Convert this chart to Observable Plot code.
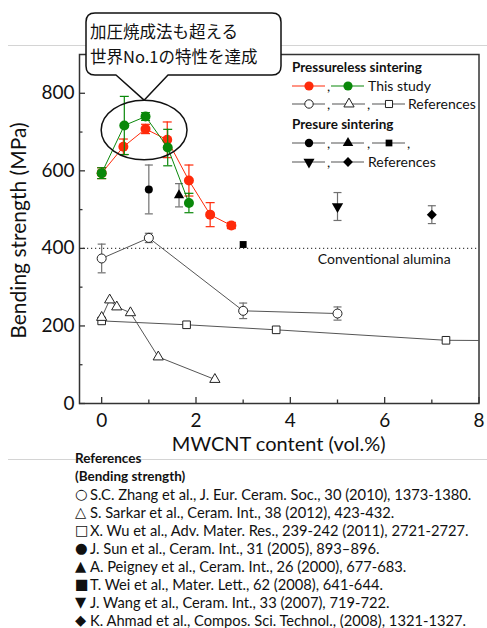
<!DOCTYPE html>
<html><head><meta charset="utf-8">
<script src="https://cdn.jsdelivr.net/npm/d3@7"></script>
<script src="https://cdn.jsdelivr.net/npm/@observablehq/plot@0.6"></script>
<style>
body{margin:0;background:#fff;}
#wrap{position:relative;width:487px;height:628px;overflow:hidden;font-family:Lato,sans-serif;}
#refs{position:absolute;left:75px;top:449px;font-size:14.7px;color:#111;white-space:nowrap;}
#refs div{height:18px;line-height:18px;}
#refs .h{font-weight:bold;font-size:13.5px;}
#refs .m{display:inline-block;width:15px;font-family:"DejaVu Sans",sans-serif;font-size:14.5px;line-height:18px;vertical-align:top;}
</style></head><body><div id="wrap"><div id="chart"></div><div id="refs"></div></div>
<script>
// ---- data ----
const studyX   = [0, 0.46, 0.93, 1.39, 1.85, 2.30, 2.75];
const redY     = [594, 662, 708, 680, 575, 487, 459];
const redErr   = [14, 20, 12, 46, 40, 31, 8];
const greenX   = [0, 0.48, 0.93, 1.40, 1.85];
const greenY   = [594, 717, 740, 660, 517];
const greenErr = [14, 75, 10, 47, 25];
const zhangX = [0, 1, 3, 5];
const zhangY = [374, 427, 239, 232];
const zhangErr = [37, 12, 20, 17];
const sarkarX = [0, 0.17, 0.32, 0.61, 1.2, 2.4];
const sarkarY = [222, 267, 249, 234, 120, 62];
const wuX = [0, 1.8, 3.7, 7.3, 10];
const wuY = [213, 203, 190, 163, 161];
const sunX = [1],     sunY = [552],     sunErr = [63];
const peigneyX = [1.64], peigneyY = [537], peigneyErr = [30];
const weiX = [3],     weiY = [410];
const wangX = [5],    wangY = [508],    wangErr = [36];
const ahmadX = [7],   ahmadY = [487],   ahmadErr = [23];
const alumina = [400];
const xMajor = [0, 2, 4, 6, 8], xMinor = [1, 3, 5, 7];
const yMajor = [0, 200, 400, 600, 800], yMinor = [100, 300, 500, 700];
const calloutLines = ["加圧焼成法も超える", "世界No.1の特性を達成"];
const references = [
  ["○", "S.C. Zhang et al., J. Eur. Ceram. Soc., 30 (2010), 1373-1380."],
  ["△", "S. Sarkar et al., Ceram. Int., 38 (2012), 423-432."],
  ["□", "X. Wu et al., Adv. Mater. Res., 239-242 (2011), 2721-2727."],
  ["●", "J. Sun et al., Ceram. Int., 31 (2005), 893–896."],
  ["▲", "A. Peigney et al.,  Ceram. Int., 26 (2000), 677-683."],
  ["■", "T. Wei et al., Mater. Lett., 62 (2008), 641-644."],
  ["▼", "J. Wang et al., Ceram. Int., 33 (2007), 719-722."],
  ["◆", "K. Ahmad et al., Compos. Sci. Technol., (2008), 1321-1327."]
];
// highlight ellipse (data units)
const hiX = 0.91, hiY = 704, hiRx = 0.91, hiRy = 77;

// ---- build tables ----
const zip = (xs, ys, es) => xs.map((x, i) => ({x, y: ys[i], e: es ? es[i] : 0}));
const red = zip(studyX, redY, redErr), green = zip(greenX, greenY, greenErr);
const zhang = zip(zhangX, zhangY, zhangErr), sarkar = zip(sarkarX, sarkarY), wu = zip(wuX, wuY);
const sun = zip(sunX, sunY, sunErr), peigney = zip(peigneyX, peigneyY, peigneyErr);
const wei = zip(weiX, weiY), wang = zip(wangX, wangY, wangErr), ahmad = zip(ahmadX, ahmadY, ahmadErr);

const cap = {draw(ctx, size) { const r = Math.sqrt(size / Math.PI); ctx.moveTo(-r, 0); ctx.lineTo(r, 0); }};
const RED = "#ff2a0a", GREEN = "#0a880a", GRAY = "#555", EGRAY = "#707070";

function errBars(data, color, w) {
  return [
    Plot.ruleX(data, {x: "x", y1: d => d.y - d.e, y2: d => d.y + d.e, stroke: color, strokeWidth: 1.2}),
    Plot.dot(data, {x: "x", y: d => d.y - d.e, symbol: cap, r: w, stroke: color, strokeWidth: 1.2}),
    Plot.dot(data, {x: "x", y: d => d.y + d.e, symbol: cap, r: w, stroke: color, strokeWidth: 1.2})
  ];
}

const W = 487, H = 470, mL = 79, mR = 8.5, mT = 54, mB = 67;
const plotH = H - mT - mB, plotW = W - mL - mR;

const plot = Plot.plot({
  width: W, height: H,
  marginLeft: mL, marginRight: mR, marginTop: mT, marginBottom: mB,
  style: {fontFamily: "Lato, sans-serif", color: "#111", background: "transparent", overflow: "visible"},
  x: {domain: [-0.47, 8]},
  y: {domain: [0, 900]},
  marks: [
    Plot.ruleY(alumina, {stroke: "#444", strokeWidth: 1.2, strokeDasharray: "1.2,2.8"}),
    Plot.text(["Conventional alumina"], {x: 5.99, y: alumina[0], dy: 11, fontSize: 14, fill: "#111"}),
    // reference lines
    Plot.line(wu, {x: "x", y: "y", stroke: GRAY, strokeWidth: 1, clip: true}),
    Plot.line(sarkar, {x: "x", y: "y", stroke: GRAY, strokeWidth: 1}),
    Plot.line(zhang, {x: "x", y: "y", stroke: GRAY, strokeWidth: 1}),
    ...errBars(zhang, EGRAY, 4),
    Plot.dot(wu.filter(d => d.x <= 8), {x: "x", y: "y", symbol: "square", r: 4.3, fill: "white", stroke: "#222", strokeWidth: 1}),
    Plot.dot(sarkar, {x: "x", y: "y", symbol: "triangle", r: 3.8, fill: "white", stroke: "#222", strokeWidth: 1}),
    Plot.dot(zhang, {x: "x", y: "y", symbol: "circle", r: 4.5, fill: "white", stroke: "#222", strokeWidth: 1}),
    // pressure sintering references
    ...errBars(sun, EGRAY, 4), ...errBars(peigney, EGRAY, 4), ...errBars(wang, EGRAY, 4), ...errBars(ahmad, EGRAY, 4),
    Plot.dot(sun, {x: "x", y: "y", symbol: "circle", r: 4, fill: "black"}),
    Plot.dot(peigney, {x: "x", y: "y", symbol: "triangle", r: 3.8, fill: "black"}),
    Plot.dot(wei, {x: "x", y: "y", symbol: "square", r: 3.9, fill: "black"}),
    Plot.dot(wang, {x: "x", y: "y", symbol: "triangle", r: 4.2, rotate: 180, fill: "black"}),
    Plot.dot(ahmad, {x: "x", y: "y", symbol: "square", r: 4, rotate: 45, fill: "black"}),
    // this study
    Plot.line(red, {x: "x", y: "y", stroke: RED, strokeWidth: 1}),
    ...errBars(red, RED, 4.5),
    Plot.dot(red, {x: "x", y: "y", r: 5, fill: RED}),
    Plot.line(green, {x: "x", y: "y", stroke: GREEN, strokeWidth: 1}),
    ...errBars(green, GREEN, 4.5),
    Plot.dot(green, {x: "x", y: "y", r: 5, fill: GREEN}),
    // frame, ticks (inward), axes
    Plot.frame({stroke: "#333", strokeWidth: 1.5}),
    Plot.tickX(xMajor, {x: d => d, insetTop: plotH - 6, stroke: "#333", strokeWidth: 1.3}),
    Plot.tickX(xMinor, {x: d => d, insetTop: plotH - 3.5, stroke: "#333", strokeWidth: 1.3}),
    Plot.tickY(yMajor, {y: d => d, insetRight: plotW - 6, stroke: "#333", strokeWidth: 1.3}),
    Plot.tickY(yMinor, {y: d => d, insetRight: plotW - 3.5, stroke: "#333", strokeWidth: 1.3}),
    Plot.axisX(xMajor, {tickSize: 0, tickPadding: 10, fontSize: 19, label: null}),
    Plot.axisY(yMajor, {tickSize: 0, tickPadding: 5, fontSize: 19, label: null})
  ]
});
document.getElementById("chart").appendChild(plot);

// ---- annotations ----
const sx = plot.scale("x"), sy = plot.scale("y");
const svg = d3.select(plot);
// slide separators
svg.insert("line", ":first-child").attr("x1", 8).attr("x2", W).attr("y1", 45.5).attr("y2", 45.5).attr("stroke", "#d4d4d4").attr("stroke-width", 1);
svg.insert("line", ":first-child").attr("x1", 8).attr("x2", W).attr("y1", 459.5).attr("y2", 459.5).attr("stroke", "#d4d4d4").attr("stroke-width", 1);

// axis titles
svg.append("text").attr("x", (mL + W - mR) / 2).attr("y", 451).attr("text-anchor", "middle")
  .attr("font-size", 20).attr("fill", "#111").text("MWCNT content (vol.%)");
svg.append("text").attr("transform", `translate(26,${(mT + H - mB) / 2 + 2}) rotate(-90)`).attr("text-anchor", "middle")
  .attr("font-size", 21).attr("fill", "#111").text("Bending strength (MPa)");

// highlight ellipse
const cx = sx.apply(hiX), cy = sy.apply(hiY);
const ery = cy - sy.apply(hiY + hiRy);
svg.append("ellipse").attr("cx", cx).attr("cy", cy)
  .attr("rx", sx.apply(hiX + hiRx) - cx).attr("ry", ery)
  .attr("fill", "none").attr("stroke", "#111").attr("stroke-width", 1.5);

// callout
const L = 86, T = 13, R = 281, B = 75, rr = 9, tx1 = 116, tx2 = 168, tipX = cx, tipY = cy - ery;
svg.append("path").attr("d",
  `M${L + rr},${T}H${R - rr}Q${R},${T} ${R},${T + rr}V${B - rr}Q${R},${B} ${R - rr},${B}H${tx2}L${tipX},${tipY}L${tx1},${B}H${L + rr}Q${L},${B} ${L},${B - rr}V${T + rr}Q${L},${T} ${L + rr},${T}Z`)
  .attr("fill", "white").attr("stroke", "#111").attr("stroke-width", 1.5).attr("stroke-linejoin", "round");
const ct = svg.append("g").attr("font-family", "'Noto Sans CJK JP', sans-serif").attr("font-size", 16.5)
  .attr("fill", "#111").attr("text-anchor", "start");
calloutLines.forEach((s, i) => ct.append("text").attr("x", 90).attr("y", 38 + i * 24.5).text(s));

// legend
const lg = svg.append("g").attr("font-family", "Lato, sans-serif").attr("fill", "#111")
  .attr("font-size", 14).attr("text-anchor", "start");
function item(x, y, lineColor, type, fill, stroke, r, rot = 0) {
  lg.append("line").attr("x1", x - 17).attr("x2", x + 16).attr("y1", y).attr("y2", y).attr("stroke", lineColor).attr("stroke-width", 1.2);
  lg.append("path").attr("d", d3.symbol(type, Math.PI * r * r)()).attr("transform", `translate(${x},${y}) rotate(${rot})`)
    .attr("fill", fill).attr("stroke", stroke).attr("stroke-width", 1);
}
function txt(x, y, s, bold) { const t = lg.append("text").attr("x", x).attr("y", y + 5).text(s); if (bold) t.attr("font-weight", "bold").attr("font-size", 13.5); }
txt(292, 67, "Pressureless sintering", true);
item(309, 86, RED, d3.symbolCircle, RED, "none", 4.6); txt(327, 86, ",");
item(348, 86, GREEN, d3.symbolCircle, GREEN, "none", 4.6); txt(368, 86, "This study");
item(309, 104, GRAY, d3.symbolCircle, "white", "#222", 4.2); txt(327, 104, ",");
item(349, 104, GRAY, d3.symbolTriangle, "white", "#222", 3.8); txt(367, 104, ",");
item(389, 104, GRAY, d3.symbolSquare, "white", "#222", 4.0); txt(408, 104, "References");
txt(292, 124, "Presure sintering", true);
item(309, 143, GRAY, d3.symbolCircle, "black", "none", 4.2); txt(327, 143, ",");
item(348, 143, GRAY, d3.symbolTriangle, "black", "none", 3.9); txt(367, 143, ",");
item(389, 143, GRAY, d3.symbolSquare, "black", "none", 3.8); txt(407, 143, ",");
item(309, 162, GRAY, d3.symbolTriangle, "black", "none", 4.1, 180); txt(327, 162, ",");
item(348, 162, GRAY, d3.symbolSquare, "black", "none", 3.9, 45); txt(368, 162, "References");

// references list
const refs = document.getElementById("refs");
refs.innerHTML = `<div class="h">References</div><div class="h">(Bending strength)</div>` +
  references.map(([m, t]) => `<div><span class="m">${m}</span>${t}</div>`).join("");
</script></body></html>
